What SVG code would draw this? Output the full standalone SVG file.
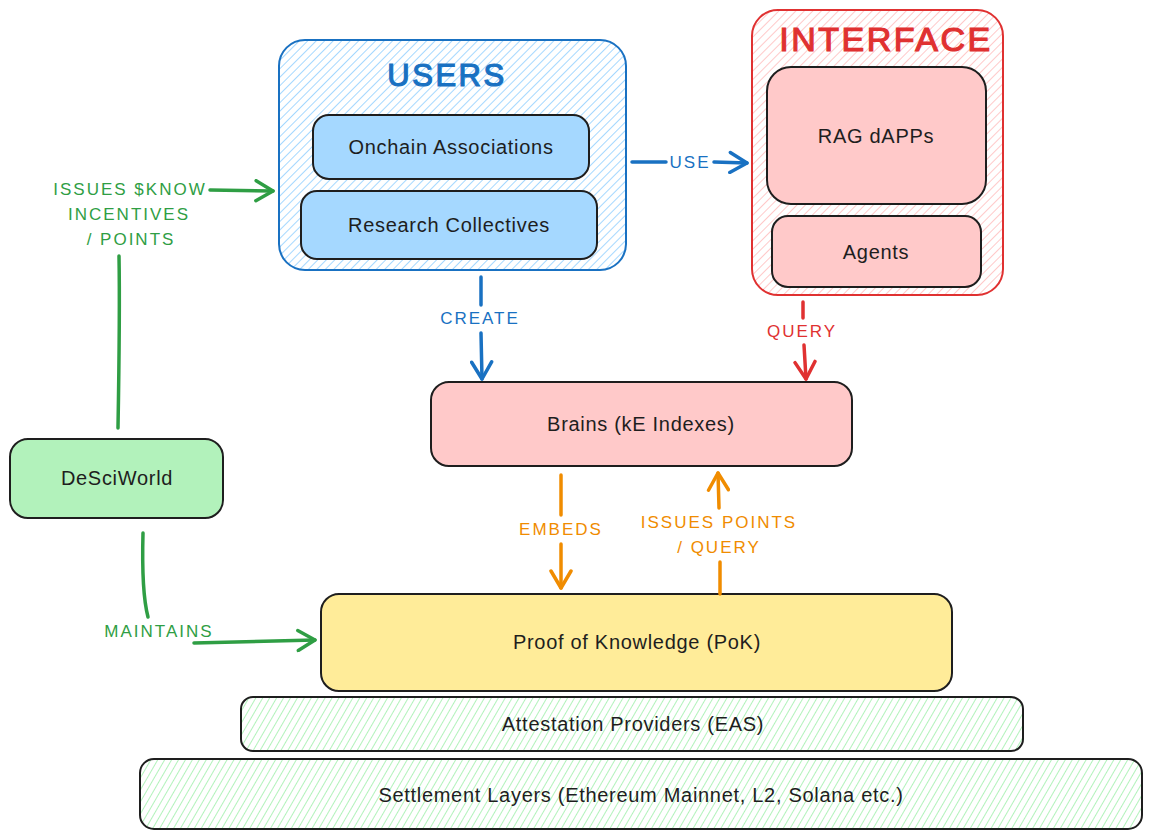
<svg xmlns="http://www.w3.org/2000/svg" width="1151" height="838" viewBox="0 0 1151 838">
<style>
.node{stroke:#1e1e1e;stroke-width:2}
.t{font-family:"Liberation Sans",Arial,sans-serif;font-size:20px;fill:#1e1e1e;text-anchor:middle;dominant-baseline:central;letter-spacing:0.7px}
.lbl{font-family:"Liberation Sans",Arial,sans-serif;font-size:17px;text-anchor:middle;dominant-baseline:central;letter-spacing:2px}
.title{font-family:"Liberation Sans",Arial,sans-serif;text-anchor:middle;dominant-baseline:central;letter-spacing:2.5px;stroke-width:1.2}
.c{fill:none;stroke-width:3.5;stroke-linecap:round}
</style>
<defs>
<pattern id="hBlue" patternUnits="userSpaceOnUse" width="6" height="6" patternTransform="rotate(45)"><rect width="6" height="6" fill="#fff"/><line x1="0" y1="0" x2="0" y2="6" stroke="#a5d8ff" stroke-width="2"/></pattern>
<pattern id="hRed" patternUnits="userSpaceOnUse" width="6" height="6" patternTransform="rotate(45)"><rect width="6" height="6" fill="#fff"/><line x1="0" y1="0" x2="0" y2="6" stroke="#ffc9c9" stroke-width="2"/></pattern>
<pattern id="hGreen" patternUnits="userSpaceOnUse" width="6" height="6" patternTransform="rotate(30)"><rect width="6" height="6" fill="#fff"/><line x1="0" y1="0" x2="0" y2="6" stroke="#b2f2bb" stroke-width="2"/></pattern>
<marker id="aBlue" viewBox="-20 -12 23 24" markerWidth="23" markerHeight="24" refX="0" refY="0" orient="auto" markerUnits="userSpaceOnUse"><path d="M-17,-10 L0,0 L-17,10" fill="none" stroke="#1971c2" stroke-width="3.5" stroke-linecap="round" stroke-linejoin="round"/></marker>
<marker id="aRed" viewBox="-20 -12 23 24" markerWidth="23" markerHeight="24" refX="0" refY="0" orient="auto" markerUnits="userSpaceOnUse"><path d="M-17,-10 L0,0 L-17,10" fill="none" stroke="#e03131" stroke-width="3.5" stroke-linecap="round" stroke-linejoin="round"/></marker>
<marker id="aGreen" viewBox="-20 -12 23 24" markerWidth="23" markerHeight="24" refX="0" refY="0" orient="auto" markerUnits="userSpaceOnUse"><path d="M-17,-10 L0,0 L-17,10" fill="none" stroke="#2f9e44" stroke-width="3.5" stroke-linecap="round" stroke-linejoin="round"/></marker>
<marker id="aOrange" viewBox="-20 -12 23 24" markerWidth="23" markerHeight="24" refX="0" refY="0" orient="auto" markerUnits="userSpaceOnUse"><path d="M-17,-10 L0,0 L-17,10" fill="none" stroke="#f08c00" stroke-width="3.5" stroke-linecap="round" stroke-linejoin="round"/></marker>
</defs>
<rect width="1151" height="838" fill="#fff"/>

<g id="users">
<rect x="279" y="40" width="347" height="230" rx="26" fill="url(#hBlue)" stroke="#1971c2" stroke-width="2"/>
<text class="title" x="447" y="75" font-size="31" fill="#1971c2" stroke="#1971c2">USERS</text>
</g>
<g id="onchain">
<rect class="node" x="313" y="115" width="276" height="64" rx="16" fill="#a5d8ff"/>
<text class="t" x="451" y="147">Onchain Associations</text>
</g>
<g id="research">
<rect class="node" x="301" y="191" width="296" height="68" rx="16" fill="#a5d8ff"/>
<text class="t" x="449" y="225">Research Collectives</text>
</g>

<g id="interface">
<rect x="752" y="10" width="251" height="285" rx="26" fill="url(#hRed)" stroke="#e03131" stroke-width="2"/>
<text class="title" x="886" y="39" font-size="34" fill="#e03131" stroke="#e03131">INTERFACE</text>
</g>
<g id="rag">
<rect class="node" x="767" y="67" width="219" height="137" rx="24" fill="#ffc9c9"/>
<text class="t" x="876" y="136">RAG dAPPs</text>
</g>
<g id="agents">
<rect class="node" x="772" y="216" width="209" height="71" rx="16" fill="#ffc9c9"/>
<text class="t" x="876" y="252">Agents</text>
</g>

<g id="brains">
<rect class="node" x="431" y="382" width="421" height="84" rx="18" fill="#ffc9c9"/>
<text class="t" x="641" y="424">Brains (kE Indexes)</text>
</g>

<g id="desciworld">
<rect class="node" x="10" y="439" width="213" height="79" rx="18" fill="#b2f2bb"/>
<text class="t" x="117" y="478">DeSciWorld</text>
</g>

<g id="pok">
<rect class="node" x="321" y="594" width="631" height="97" rx="18" fill="#ffec99"/>
<text class="t" x="637" y="642">Proof of Knowledge (PoK)</text>
</g>

<g id="attestation">
<rect class="node" x="241" y="697" width="782" height="54" rx="12" fill="url(#hGreen)"/>
<text class="t" x="633" y="724">Attestation Providers (EAS)</text>
</g>

<g id="settlement">
<rect class="node" x="140" y="759" width="1002" height="70" rx="14" fill="url(#hGreen)"/>
<text class="t" x="641" y="795">Settlement Layers (Ethereum Mainnet, L2, Solana etc.)</text>
</g>

<g id="connectors">
<!-- USE -->
<path class="c" stroke="#1971c2" d="M632,162 L666,162"/>
<path class="c" stroke="#1971c2" d="M714,162 L747,163" marker-end="url(#aBlue)"/>
<text class="lbl" x="690" y="162" fill="#1971c2">USE</text>
<!-- CREATE -->
<path class="c" stroke="#1971c2" d="M481,277 L481,305"/>
<path class="c" stroke="#1971c2" d="M481,333 L482,379" marker-end="url(#aBlue)"/>
<text class="lbl" x="480" y="318" fill="#1971c2">CREATE</text>
<!-- QUERY -->
<path class="c" stroke="#e03131" d="M803,302 L803,318"/>
<path class="c" stroke="#e03131" d="M804,345 L806,379" marker-end="url(#aRed)"/>
<text class="lbl" x="802" y="331" fill="#e03131">QUERY</text>
<!-- EMBEDS -->
<path class="c" stroke="#f08c00" d="M561,475 L561,515"/>
<path class="c" stroke="#f08c00" d="M561,544 L561,588" marker-end="url(#aOrange)"/>
<text class="lbl" x="561" y="529" fill="#f08c00">EMBEDS</text>
<!-- ISSUES POINTS / QUERY -->
<path class="c" stroke="#f08c00" d="M720,594 L720,562"/>
<path class="c" stroke="#f08c00" d="M719,508 L718,473" marker-end="url(#aOrange)"/>
<text class="lbl" x="719" y="522" fill="#f08c00">ISSUES POINTS</text>
<text class="lbl" x="719" y="547" fill="#f08c00">/ QUERY</text>
<!-- ISSUES $KNOW -->
<path class="c" stroke="#2f9e44" d="M118,428 C119,370 120,310 119,256"/>
<path class="c" stroke="#2f9e44" d="M210,190 L273,191" marker-end="url(#aGreen)"/>
<text class="lbl" x="130" y="189" fill="#2f9e44">ISSUES $KNOW</text>
<text class="lbl" x="129" y="214" fill="#2f9e44">INCENTIVES</text>
<text class="lbl" x="131" y="239" fill="#2f9e44">/ POINTS</text>
<!-- MAINTAINS -->
<path class="c" stroke="#2f9e44" d="M143,533 C142,570 143,598 148,617"/>
<path class="c" stroke="#2f9e44" d="M194,643 C240,642 280,641 315,640" marker-end="url(#aGreen)"/>
<text class="lbl" x="159" y="631" fill="#2f9e44">MAINTAINS</text>
</g>
</svg>
